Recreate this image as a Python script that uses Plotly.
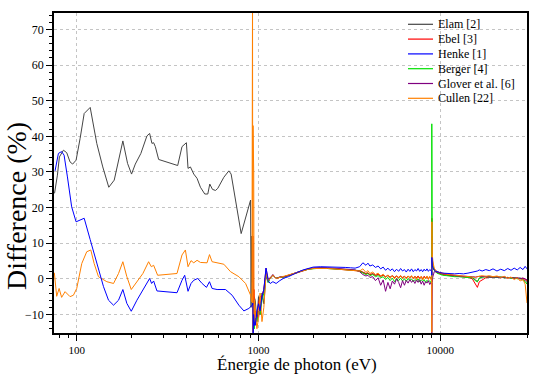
import plotly.graph_objects as go

# ---------------- data ----------------
series_names = ["Elam [2]", "Ebel [3]", "Henke [1]", "Berger [4]", "Glover et al. [6]", "Cullen [22]"]
series_colors = ["#454545", "#ff0000", "#0000ff", "#00e000", "#800080", "#ff8000"]

# shared energy grid above the Cu L-edge (eV)
hi_e = [960, 980, 1000, 1020, 1045, 1070, 1100, 1130, 1160, 1200,
        1250, 1310, 1380, 1460, 1550, 1650, 1760, 1880, 2000, 2200,
        2400, 2600, 2800, 3000, 3200, 3400, 3600, 3750, 3900, 4000,
        4100, 4250, 4400, 4550, 4700, 4850, 5000, 5150, 5300, 5450,
        5600, 5750, 5900, 6050, 6200, 6350, 6500, 6650, 6800, 6950,
        7100, 7250, 7400, 7550, 7700, 7850, 8000, 8150, 8300, 8450,
        8600, 8750, 8900, 8970, 8980, 8990, 9010, 9040, 9090, 9160,
        9260, 9400, 9600, 9900, 10300, 10800, 11400, 12000, 12700, 13400,
        14200, 15000, 15600, 16000, 16400, 17000, 17800, 18600, 19500, 20500,
        21500, 22500, 23500, 24500, 25500, 26500, 27500, 28500, 29300, 30000]

# Elam
elam_e_low = [75.5, 78.3, 80.3, 84.5, 88.1, 91.9, 95.0, 99.2, 104.4, 109.9, 118.6, 128.9, 139.1, 150.1,
              160.8, 179.4, 190.4, 200.3, 210.0, 225.4, 243.3, 251.8, 259.3, 264.9, 270.7, 282.3, 359.3,
              379.5, 401.2, 409.5, 422.2, 430, 440.3, 459.1, 479.3, 506.2, 526, 539.4, 558.2, 580, 597.2,
              644.5, 686.7, 707.0, 802.7, 904.5]
elam_v_low = [24.0, 29.1, 34.2, 36.1, 35.4, 32.8, 32.2, 33.3, 39.4, 46.4, 48.1, 38.0, 31.4, 25.7,
              27.7, 38.7, 32.4, 29.4, 32.2, 35.2, 40.1, 40.8, 38.0, 38.2, 37.1, 33.5, 31.8,
              37.1, 38.2, 31.0, 31.4, 30.5, 29.4, 28.2, 25.7, 23.8, 23.8, 26.6, 25.1, 24.8, 25.4,
              28.5, 30.3, 29.4, 12.7, 22.1]
elam_e_edge = [910, 918, 924, 930, 936, 945]
elam_v_edge = [-8, 12, -1, 10, -14, -5]
elam_v_hi = [-6, -12, -5, -10, -4, -7, 1.0, -1.0, 0.4, 1.0,
             0.2, 0.5, 0.6, 1.0, 1.5, 2.0, 2.4, 2.8, 3.0, 3.1,
             3.0, 2.9, 2.8, 2.7, 2.6, 2.5, 2.3, 1.8, 1.5, 1.6,
             1.2, 1.4, 1.0, 1.2, 0.8, 1.0, 0.6, 0.9, 0.5, 0.8,
             0.4, 0.7, 0.3, 0.7, 0.4, 0.6, 0.3, 0.7, 0.4, 0.6,
             0.2, 0.6, 0.3, 0.7, 0.2, 0.5, 0.1, 0.6, 0.2, 0.5,
             0.1, 0.5, 0.2, -0.3, 0.5, 12, 7, 4.5, 3.5, 2.8,
             2.3, 2.0, 1.7, 1.4, 1.2, 1.0, 0.9, 0.8, 0.7, 0.6,
             0.5, 0.3, -0.3, -0.8, 0.2, 0.5, 0.6, 0.5, 0.6, 0.4,
             0.5, 0.3, 0.4, 0.2, 0.3, 0.1, 0.2, -0.1, -0.5, -1.0]

# Ebel
ebel_e_edge = [925, 932, 938, 945, 952]
ebel_v_edge = [2, 12, -15, -3, -12]
ebel_v_hi = [-9, -11, -7, -5, -5, -3, 1.5, -0.5, 0.2, 1.1,
             0.1, 0.4, 0.5, 0.9, 1.4, 1.9, 2.3, 2.7, 2.9, 3.0,
             2.9, 2.8, 2.7, 2.6, 2.5, 2.4, 2.2, 1.9, 1.4, 1.7,
             1.1, 1.5, 0.9, 1.3, 0.7, 1.1, 0.5, 1.0, 0.4, 0.9,
             0.3, 0.8, 0.4, 0.8, 0.3, 0.7, 0.2, 0.8, 0.3, 0.7,
             0.1, 0.7, 0.2, 0.8, 0.1, 0.6, 0.0, 0.7, 0.1, 0.6,
             0.0, 0.6, 0.1, -0.4, 1.0, 17, 9, 6, 4.2, 3.3,
             2.6, 2.2, 1.8, 1.5, 1.3, 1.1, 1.0, 0.9, 0.8, 0.7,
             0.5, 0.0, -1.5, -2.4, -0.8, -0.4, 0.3, 0.5, 0.4, 0.6,
             0.3, 0.5, 0.2, 0.4, 0.1, 0.3, -0.1, 0.2, -0.2, -0.5]

# Henke
henke_e_low = [76.0, 79.3, 82.6, 85.2, 88.9, 93.8, 99.2, 109.9, 118.6, 128.9, 140.4, 149.6, 159.4,
               169.8, 179.4, 188.7, 199.5, 214.3, 228.3, 243.3, 251.8, 258.2, 264.9, 276.3, 356.2,
               379.5, 392.6, 409.5, 425.4, 440.3, 463.2, 489.3, 517.4, 537.5, 555.5, 591.9, 658.5,
               716.1, 779.8, 830.9, 885.3, 923.3]
henke_v_low = [30.3, 35.2, 35.7, 34.7, 28.6, 20.2, 16.0, 17.0, 11.0, 4.3, -2.2, -6.0, -7.4,
               -6.0, -3.0, -6.9, -9.1, -6.0, -3.6, -0.8, 0.1, -1.3, -0.6, -3.4, -3.9,
               -0.4, 1.0, -3.5, -1.3, -0.4, 0.1, -1.3, -2.4, -0.8, -2.7, -3.0, -3.0,
               -4.6, -7.4, -9.0, -8.3, -7.4]
henke_e_edge = [930, 934, 940, 950]
henke_v_edge = [-6.8, -15.5, -10, -13]
henke_v_hi = [-13, -9, -7, -9, -5, -3, 3.0, -0.5, -1.3, -0.8,
              -1.3, -0.5, 0.2, 0.6, 1.3, 1.9, 2.5, 3.0, 3.3, 3.4,
              3.4, 3.3, 3.2, 3.2, 3.1, 3.0, 3.4, 4.5, 3.8, 4.4,
              3.6, 3.9, 3.2, 3.6, 2.8, 3.3, 2.4, 3.0, 2.3, 2.8,
              2.0, 2.7, 2.1, 2.9, 2.2, 2.6, 1.9, 2.7, 2.1, 2.8,
              2.0, 2.6, 2.2, 2.9, 2.1, 2.6, 2.0, 2.7, 2.2, 2.8,
              2.1, 2.6, 2.3, 2.0, 1.0, 6.0, 4.5, 3.8, 3.2, 2.8,
              2.5, 2.2, 2.0, 1.8, 1.6, 1.5, 1.4, 1.4, 1.5, 1.4,
              1.6, 1.8, 2.0, 2.2, 2.5, 2.2, 2.6, 2.3, 2.8, 2.2,
              2.7, 2.3, 2.9, 2.4, 3.0, 2.5, 3.2, 2.6, 3.5, 2.8]

# Berger
berger_e_edge = [933, 940, 948]
berger_v_edge = [-15, -8, -14]
berger_v_hi = [-11, -12, -9, -10, -6, -4, 1.5, -1.0, 0.2, 1.0,
               0.2, 0.4, 0.5, 0.9, 1.4, 1.9, 2.3, 2.7, 2.9, 3.0,
               2.9, 2.8, 2.7, 2.6, 2.5, 2.4, 2.1, 1.6, 1.2, 1.5,
               0.9, 1.2, 0.6, 0.9, 0.3, 0.6, -0.2, 0.4, -0.5, 0.2,
               -0.8, 0.1, -0.5, 0.2, -0.6, 0.0, -0.7, 0.1, -0.5, 0.0,
               -0.8, -0.2, -0.6, 0.0, -0.9, -0.3, -0.7, -0.2, -1.0, -0.4,
               -0.9, -0.5, -1.2, -1.5, 43.5, 16, 8, 5, 3.8, 3.0,
               2.4, 2.0, 1.6, 1.3, 1.0, 0.9, 0.7, 0.6, 0.6, 0.5,
               0.5, 0.3, -0.5, -0.8, 0.2, 0.5, 0.6, 0.5, 0.6, 0.4,
               0.5, 0.3, 0.4, 0.2, 0.3, 0.0, 0.2, -0.3, -0.8, -1.5]

# Glover et al.
glover_e_edge = [935, 942, 950]
glover_v_edge = [-15, -6, -13]
glover_v_hi = [-13, -10, -11, -7, -5, -3, 3.0, 0.0, 0.2, 1.2,
               0.1, 0.5, 0.6, 1.0, 1.5, 2.0, 2.4, 2.8, 3.1, 3.2,
               3.1, 3.0, 2.9, 2.8, 2.7, 2.5, 2.0, 1.2, 0.8, 1.0,
               0.4, 0.6, -0.5, 0.3, -1.8, -0.3, -3.5, -1.0, -2.8, -0.6,
               -1.5, 0.0, -1.0, -2.5, -0.5, -1.8, -0.4, -1.2, -0.2, -1.0,
               -0.4, -1.3, -0.3, -1.0, -0.2, -1.5, -0.6, -1.8, -0.8, -1.2,
               -0.5, -1.6, -1.0, -1.5, -15.5, -3.0, -2.0, -1.0, 0.5, 1.5,
               2.0, 2.0, 1.9, 1.7, 1.4, 1.2, 1.0, 0.9, 0.8, 0.8,
               0.7, 0.6, 0.5, 0.6, 0.7, 0.6, 0.7, 0.5, 0.6, 0.5,
               0.4, 0.5, 0.3, 0.4, 0.2, 0.3, 0.1, 0.2, 0.0, -0.3]

# Cullen
cullen_e_low = [75.3, 77.6, 80.0, 82.6, 86.3, 91.9, 95.9, 100, 106.6, 113.5, 119.5, 124.7, 131.7,
                146.4, 159.4, 169.8, 179.4, 188.7, 199.5, 214.3, 231.2, 248.6, 257.3, 264.9, 278.7,
                356.2, 379.5, 396.1, 409.5, 425.4, 440.3, 459.1, 479.3, 521.2, 537.5, 555.5, 591.9,
                644.5, 701.8, 779.8, 849.0, 904.5, 920]
cullen_v_low = [1.7, -4.9, -2.7, -5.2, -3.6, -5.0, -4.6, -2.7, 4.3, 7.6, 8.1, 4.3, 0.6,
                -0.8, -1.3, 1.5, 4.8, 0.6, -3.0, -0.8, 1.5, 4.8, 3.4, 3.8, 1.0,
                1.5, 6.7, 8.1, 3.4, 5.1, 4.5, 5.2, 4.6, 4.5, 6.8, 4.8, 4.5,
                4.1, 2.0, 0.6, -1.3, -4.6, -6.5]
cullen_e_edge = [927, 930, 933, 937, 941, 946, 952]
cullen_v_edge = [80, -15, 43, -15, 30, -12, -6]
cullen_v_hi = [-9, -14, -11, -4, -12, -8, 1.5, -0.5, 0.1, 1.0,
               0.1, 0.4, 0.6, 0.9, 1.4, 1.9, 2.3, 2.7, 2.9, 3.0,
               2.9, 2.8, 2.7, 2.6, 2.5, 2.4, 2.2, 2.8, 1.8, 2.3,
               1.5, 1.9, 1.2, 1.6, 0.8, 1.3, 0.4, 1.1, 0.2, 0.9,
               0.0, 0.8, 0.2, 0.9, 0.1, 0.7, 0.0, 0.8, 0.2, 0.9,
               0.1, 0.7, -0.2, 0.6, 0.0, 0.7, -0.3, 0.5, 0.0, 0.8,
               -0.2, 0.6, 0.0, -0.5, -15, 16, 11, 7, 5, 3.8,
               3.0, 2.5, 2.1, 1.8, 1.5, 1.3, 1.2, 1.0, 0.9, 0.8,
               0.6, 0.5, 0.4, 0.6, 0.8, 0.9, 0.7, 0.9, 0.6, 0.8,
               0.4, 0.7, 0.2, 0.5, -0.2, 0.3, -0.6, -0.2, -1.5, -6.8]

x_tickvals = [100, 1000, 10000]
x_ticktext = ["100", "1000", "10000"]
x_minor = [80, 90, 200, 300, 400, 500, 600, 700, 800, 900,
           2000, 3000, 4000, 5000, 6000, 7000, 8000, 9000, 20000, 30000]
y_tickvals = [-10, 0, 10, 20, 30, 40, 50, 60, 70]

# ---------------- figure ----------------
series = {
    "Elam [2]": (elam_e_low + elam_e_edge + hi_e, elam_v_low + elam_v_edge + elam_v_hi),
    "Ebel [3]": (ebel_e_edge + hi_e, ebel_v_edge + ebel_v_hi),
    "Henke [1]": (henke_e_low + henke_e_edge + hi_e, henke_v_low + henke_v_edge + henke_v_hi),
    "Berger [4]": (berger_e_edge + hi_e, berger_v_edge + berger_v_hi),
    "Glover et al. [6]": (glover_e_edge + hi_e, glover_v_edge + glover_v_hi),
    "Cullen [22]": (cullen_e_low + cullen_e_edge + hi_e, cullen_v_low + cullen_v_edge + cullen_v_hi),
}
draw_order = ["Elam [2]", "Ebel [3]", "Berger [4]", "Glover et al. [6]", "Cullen [22]", "Henke [1]"]

FONT = "Liberation Serif"
W, H = 550, 377
ML, MR, MT, MB = 54, 23, 13, 44
PW, PH = W - ML - MR, H - MT - MB

fig = go.Figure()
for name in draw_order:
    i = series_names.index(name)
    xs, ys = series[name]
    fig.add_trace(go.Scatter(x=xs, y=ys, mode="lines", name=name, showlegend=False,
                             line=dict(color=series_colors[i], width=1)))

axis_common = dict(showline=True, linecolor="black", linewidth=1.5, mirror=True,
                   ticks="outside", ticklen=6, tickwidth=1, tickcolor="black",
                   showgrid=True, gridcolor="#c4c4c4", griddash="dot", gridwidth=1,
                   zeroline=False)

# compact legend like the reference: a coloured line sample and the series name per row
annotations, shapes = [], []
for i, name in enumerate(series_names):
    y_px = 24.3 + 14.8 * i
    yp = (H - MB - y_px) / PH
    shapes.append(dict(type="line", xref="paper", yref="paper",
                       x0=(408 - ML) / PW, x1=(433 - ML) / PW, y0=yp, y1=yp,
                       line=dict(color=series_colors[i], width=1.2)))
    annotations.append(dict(text=name, xref="paper", yref="paper", x=(436 - ML) / PW, y=yp,
                            xanchor="left", yanchor="middle", showarrow=False,
                            font=dict(family=FONT, size=12, color="black")))

annotations += [
    dict(text="Énergie de photon (eV)", xref="paper", yref="paper", x=(296.7 - ML) / PW,
         y=(H - MB - 364) / PH, xanchor="center", yanchor="middle", showarrow=False,
         font=dict(family=FONT, size=17, color="black")),
    dict(text="Difference (%)", xref="paper", yref="paper", x=(16 - ML) / PW,
         y=(H - MB - 206) / PH, xanchor="center", yanchor="middle", textangle=-90,
         showarrow=False, font=dict(family=FONT, size=28, color="black")),
]

fig.update_layout(
    width=W, height=H,
    margin=dict(l=ML, r=MR, t=MT, b=MB),
    paper_bgcolor="white", plot_bgcolor="white",
    font=dict(family=FONT, color="black"),
    xaxis=dict(type="log", range=[1.875, 4.477], tickmode="array", tickvals=x_tickvals,
               ticktext=x_ticktext, tickfont=dict(family=FONT, size=11, color="black"),
               minor=dict(tickvals=x_minor, ticks="outside", ticklen=3, tickcolor="black", showgrid=False),
               **axis_common),
    yaxis=dict(range=[-15.2, 74.6], tickmode="array", tickvals=y_tickvals,
               tickfont=dict(family=FONT, size=12, color="black"),
               minor=dict(dtick=2, tick0=0, ticks="outside", ticklen=3, tickcolor="black", showgrid=False),
               **axis_common),
    showlegend=False,
    annotations=annotations,
    shapes=shapes,
)

fig.write_html("out.html", config={"displayModeBar": False},
               post_script="document.body.style.margin='0';")
